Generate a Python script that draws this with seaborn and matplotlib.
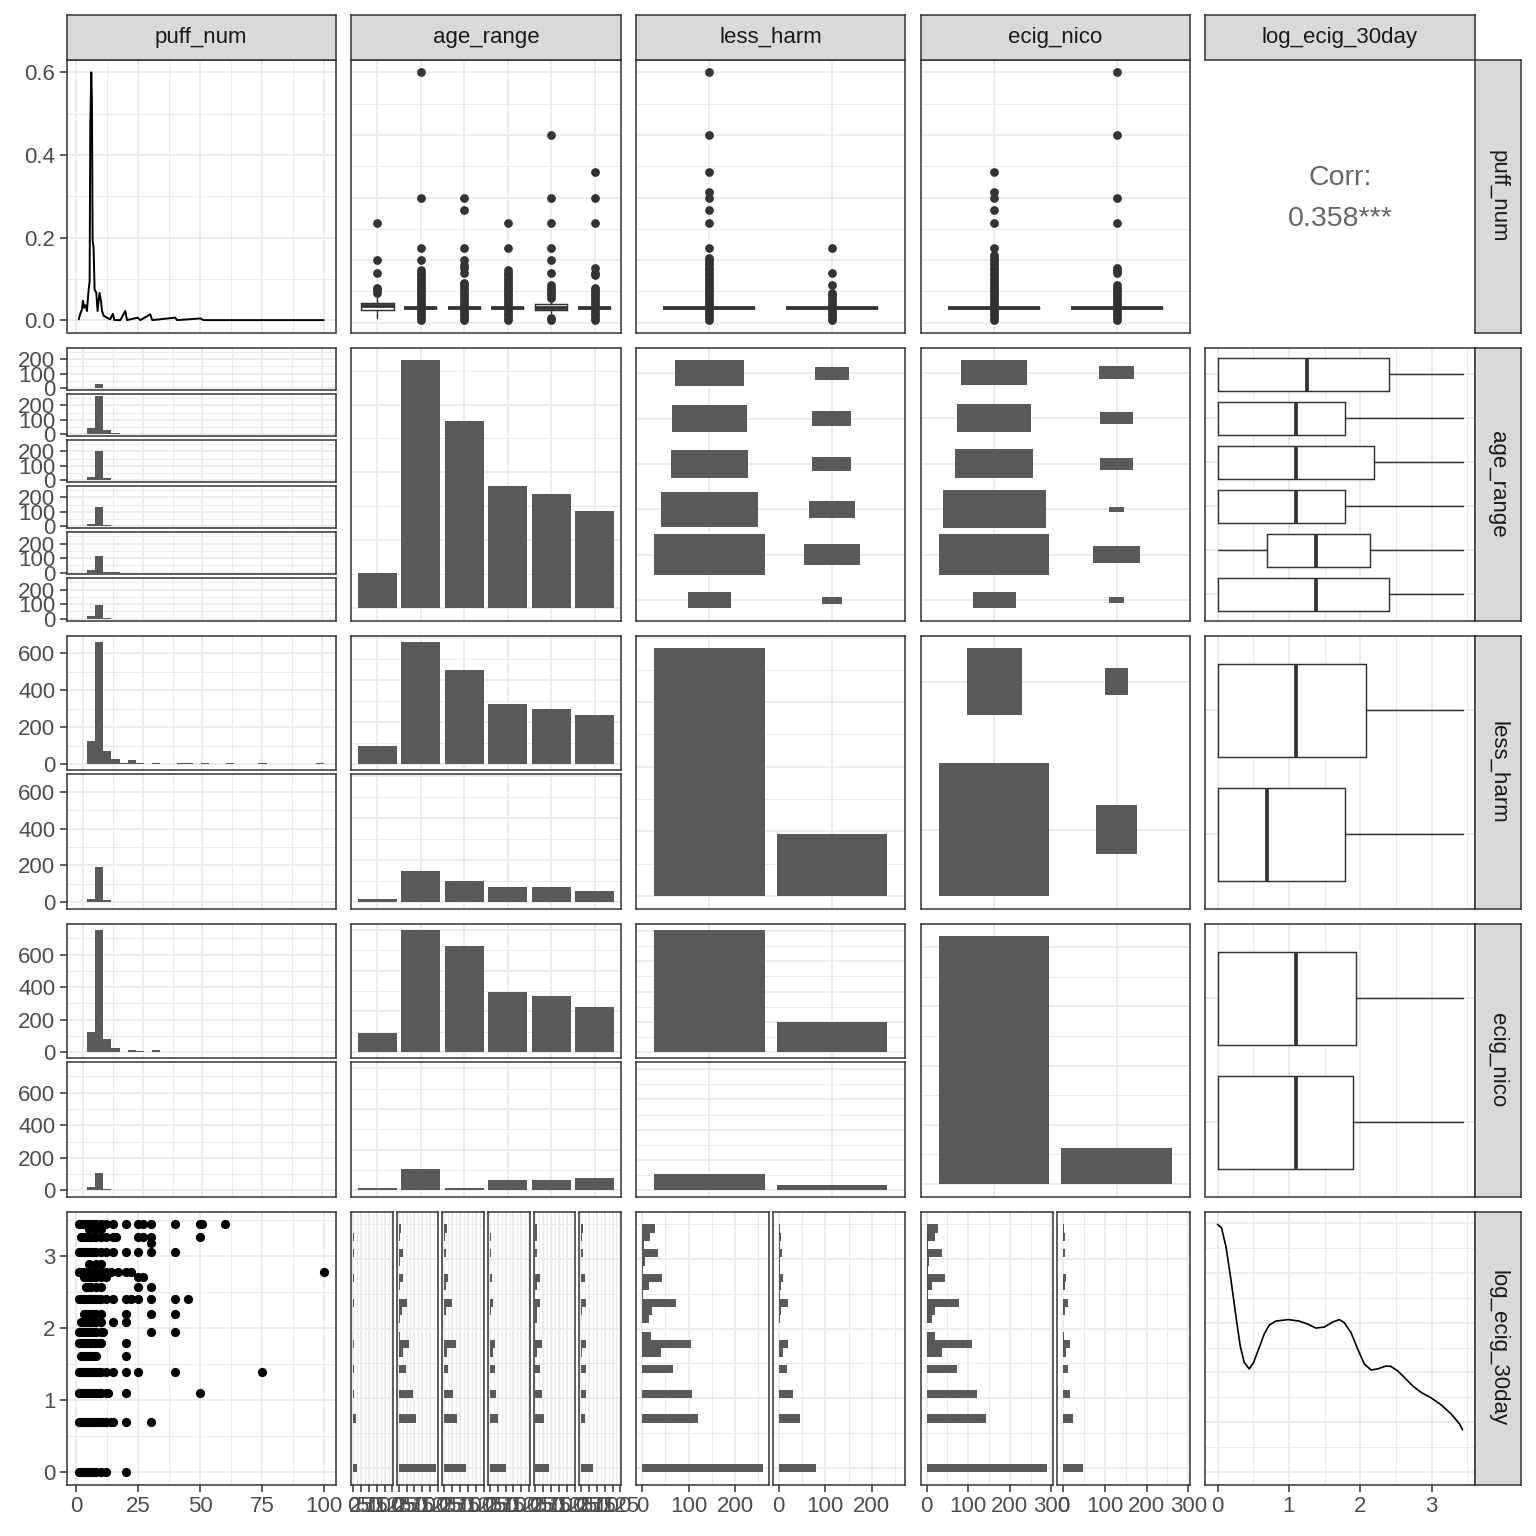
import numpy as np
import pandas as pd
import matplotlib
matplotlib.use("Agg")
import matplotlib.pyplot as plt
from matplotlib.patches import Rectangle
from matplotlib.ticker import FuncFormatter
import seaborn as sns

sns.set_style("white")
plt.rcParams["font.family"] = ["Liberation Sans", "DejaVu Sans"]

# ---------------- data ----------------
variables = ["puff_num", "age_range", "less_harm", "ecig_nico", "log_ecig_30day"]
age_levels = ["1", "2", "3", "4", "5", "6"]
bin_levels = ["0", "1"]
corr_value = 0.358

# diagonal densities
puff_dens_x = [1.0, 1.6, 2.3, 2.7, 3.2, 3.8, 4.3, 5.0, 5.4, 5.66, 6.06, 6.33, 6.6, 7.0, 7.4,
               8.1, 8.6, 9.4, 10.0, 10.4, 11.1, 12.4, 13.7, 14.8, 15.4, 17.8, 19.8, 20.5,
               24.8, 25.9, 29.9, 30.7, 40.0, 40.7, 50.1, 51.5, 100.0]
puff_dens_y = [0.002, 0.015, 0.026, 0.047, 0.030, 0.036, 0.022, 0.074, 0.094, 0.470, 0.600,
               0.534, 0.194, 0.174, 0.074, 0.066, 0.022, 0.066, 0.046, 0.022, 0.010, 0.006,
               0.002, 0.015, 0.0, 0.0, 0.022, 0.0, 0.006, 0.0, 0.014, 0.0, 0.006, 0.0,
               0.004, 0.0, 0.0]
log_dens_x = [0.0, 0.056, 0.117, 0.187, 0.257, 0.318, 0.374, 0.444, 0.505, 0.584, 0.654,
              0.725, 0.818, 0.991, 1.145, 1.262, 1.379, 1.496, 1.613, 1.706, 1.776, 1.870,
              1.964, 2.057, 2.151, 2.244, 2.361, 2.431, 2.525, 2.618, 2.735, 2.852, 2.992,
              3.133, 3.273, 3.390, 3.434]
log_dens_y = [0.497, 0.490, 0.453, 0.387, 0.313, 0.253, 0.220, 0.207, 0.220, 0.250, 0.277,
              0.295, 0.303, 0.306, 0.303, 0.297, 0.289, 0.291, 0.301, 0.306, 0.300, 0.280,
              0.247, 0.217, 0.205, 0.207, 0.213, 0.212, 0.203, 0.190, 0.173, 0.160, 0.149,
              0.135, 0.117, 0.097, 0.085]

age_counts = [52, 365, 276, 180, 168, 143]
less_harm_counts = [958, 240]
ecig_nico_counts = [1045, 154]

# cross tables
age_by_less_harm = [[43, 290, 224, 144, 132, 116],   # less_harm = 0
                    [9, 75, 52, 36, 36, 27]]         # less_harm = 1
age_by_ecig_nico = [[46, 300, 261, 149, 138, 110],   # ecig_nico = 0
                    [5, 53, 5, 26, 26, 31]]          # ecig_nico = 1
less_harm_by_ecig_nico = [[805, 111],                # less_harm = 0 : ecig 0, 1
                          [200, 34]]                 # less_harm = 1

# puff_num histogram counts, 30 bins
puff_hist_age = [
    [0, 2, 32, 2, 2, 0, 0, 0, 0, 0, 0, 0, 0, 0, 0, 0, 0, 0, 0, 0, 0, 0, 0, 0, 0, 0, 0, 0, 0, 0],
    [0, 44, 264, 30, 9, 0, 2, 0, 0, 2, 0, 0, 0, 0, 0, 0, 0, 0, 0, 0, 0, 0, 0, 0, 0, 0, 0, 0, 0, 0],
    [0, 25, 205, 16, 2, 0, 2, 2, 0, 2, 0, 0, 0, 0, 0, 0, 0, 0, 0, 0, 0, 0, 0, 0, 0, 0, 0, 0, 0, 0],
    [0, 16, 134, 9, 2, 0, 0, 0, 0, 0, 0, 0, 0, 0, 0, 0, 0, 0, 0, 0, 0, 0, 0, 0, 0, 0, 0, 0, 0, 0],
    [0, 16, 113, 2, 2, 0, 0, 0, 0, 0, 0, 0, 0, 0, 0, 0, 0, 0, 0, 0, 0, 0, 0, 0, 0, 0, 0, 0, 0, 0],
    [0, 16, 92, 4, 0, 0, 0, 0, 0, 0, 0, 0, 0, 0, 0, 0, 0, 0, 0, 0, 0, 0, 0, 0, 0, 0, 0, 0, 0, 0],
]
puff_hist_less_harm = [
    [3, 123, 661, 73, 30, 4, 24, 8, 0, 8, 0, 0, 8, 4, 0, 8, 0, 0, 4, 0, 0, 0, 4, 0, 0, 0, 0, 0, 0, 4],
    [0, 18, 194, 14, 0, 0, 0, 0, 0, 2, 0, 0, 0, 0, 0, 0, 0, 0, 0, 0, 0, 0, 0, 0, 0, 0, 0, 0, 0, 0],
]
puff_hist_ecig_nico = [
    [0, 122, 750, 79, 23, 0, 16, 4, 0, 11, 0, 0, 0, 0, 0, 0, 0, 0, 0, 0, 0, 0, 0, 0, 0, 0, 0, 0, 0, 0],
    [0, 23, 104, 9, 4, 0, 4, 0, 0, 0, 0, 0, 0, 0, 0, 0, 0, 0, 0, 0, 0, 0, 0, 0, 0, 0, 0, 0, 0, 0],
]

# log_ecig_30day histogram counts, 30 bins
log_hist_age = [
    [13, 0, 0, 0, 0, 0, 8, 0, 0, 2, 0, 0, 2, 0, 0, 2, 0, 0, 0, 0, 2, 0, 0, 3, 0, 0, 2, 0, 2, 0],
    [120, 0, 0, 0, 0, 0, 54, 0, 0, 45, 0, 0, 22, 0, 13, 32, 3, 0, 3, 10, 25, 0, 5, 13, 0, 4, 13, 0, 4, 6],
    [70, 0, 0, 0, 0, 0, 41, 0, 0, 29, 0, 0, 13, 0, 8, 38, 0, 0, 0, 6, 25, 0, 4, 13, 0, 0, 6, 0, 3, 8],
    [52, 0, 0, 0, 0, 0, 26, 0, 0, 20, 0, 0, 17, 0, 9, 17, 0, 0, 1, 3, 10, 0, 2, 7, 0, 0, 3, 0, 3, 2],
    [42, 0, 0, 0, 0, 0, 26, 0, 0, 20, 0, 0, 14, 0, 6, 20, 0, 0, 4, 5, 14, 0, 5, 14, 0, 0, 6, 0, 4, 6],
    [38, 0, 0, 0, 0, 0, 14, 0, 0, 16, 0, 0, 16, 0, 3, 16, 0, 0, 0, 3, 16, 0, 1, 14, 0, 0, 6, 0, 3, 6],
]
log_hist_less_harm = [
    [259, 0, 0, 0, 0, 0, 120, 0, 0, 108, 0, 0, 67, 0, 41, 105, 19, 0, 16, 21, 73, 2, 16, 43, 2, 6, 34, 5, 17, 27],
    [81, 0, 0, 0, 0, 0, 45, 0, 0, 30, 0, 0, 17, 0, 9, 19, 1, 0, 2, 4, 19, 2, 4, 10, 2, 2, 8, 2, 4, 2],
]
log_hist_ecig_nico = [
    [290, 0, 0, 0, 0, 0, 142, 0, 0, 120, 0, 0, 72, 0, 38, 108, 19, 0, 12, 21, 77, 3, 14, 44, 3, 5, 37, 3, 19, 27],
    [46, 0, 0, 0, 0, 0, 22, 0, 0, 15, 0, 0, 10, 0, 6, 15, 2, 0, 0, 3, 12, 0, 3, 7, 0, 0, 5, 0, 4, 2],
]

# puff_num boxplots: (q1, median, q3, lower whisker, upper whisker) and outliers
puff_box_age = [(5, 6.5, 8, 2, 10), (6, 6, 6, 6, 6), (6, 6, 6, 6, 6),
                (6, 6, 6, 6, 6), (5, 6, 7.5, 4, 10), (6, 6, 6, 6, 6)]
puff_out_age = [
    [12, 13, 14, 20, 25, 40],
    [1, 2, 3, 4, 5] + list(range(7, 22)) + [25, 30, 50, 100],
    [1, 2, 3, 4, 5] + list(range(7, 17)) + [20, 22, 23, 25, 30, 45, 50],
    [1, 2, 3, 4, 5] + list(range(7, 22)) + [30, 40],
    [1, 2] + list(range(10, 16)) + [20, 25, 30, 40, 50, 75],
    [1, 2, 3, 4, 5] + list(range(7, 15)) + [19, 20, 22, 40, 50, 60],
]
puff_box_less_harm = [(6, 6, 6, 6, 6), (6, 6, 6, 6, 6)]
puff_out_less_harm = [
    [1, 2, 3, 4, 5] + list(range(7, 27)) + [30, 40, 45, 50, 52, 60, 75, 100],
    [1, 2, 3, 4, 5, 7, 8, 9, 10, 11, 12, 15, 20, 30],
]
puff_box_ecig_nico = [(6, 6, 6, 6, 6), (6, 6, 6, 6, 6)]
puff_out_ecig_nico = [
    [1, 2, 3, 4, 5] + list(range(7, 28)) + [30, 40, 45, 50, 52, 60],
    [1, 2, 3, 4, 5, 7, 8, 9, 10, 11, 12, 13, 14, 15, 20, 21, 22, 40, 50, 75, 100],
]

# log_ecig_30day boxplots: (q1, median, q3, lower whisker, upper whisker)
log_box_age = [(0, 1.386, 2.398, 0, 3.434), (0.693, 1.386, 2.14, 0, 3.434),
               (0, 1.099, 1.792, 0, 3.434), (0, 1.099, 2.197, 0, 3.434),
               (0, 1.099, 1.792, 0, 3.434), (0, 1.26, 2.398, 0, 3.434)]
log_box_less_harm = [(0, 0.693, 1.792, 0, 3.434), (0, 1.099, 2.079, 0, 3.434)]
log_box_ecig_nico = [(0, 1.099, 1.90, 0, 3.434), (0, 1.099, 1.946, 0, 3.434)]

# scatter: days vaped in last 30 (log_ecig_30day = log(days + 1)) against puff_num
scatter_rows = {
    0: [1, 2, 3, 4, 5, 6, 7, 8, 10, 12, 20],
    1: [1, 2, 3, 4, 5, 6, 7, 8, 9, 10, 11, 12, 14, 15, 20, 30],
    2: [1, 2, 3, 4, 5, 6, 7, 8, 9, 10, 12, 13, 20, 50],
    3: [1, 2, 3, 4, 5, 6, 7, 8, 9, 10, 12, 15, 20, 25, 40, 75],
    4: [2, 3, 4, 5, 6, 7, 8, 20],
    5: [1, 2, 3, 4, 5, 6, 7, 8, 9, 10, 20],
    6: [1, 2, 3, 4, 5, 6, 7, 8, 10, 11, 30, 40],
    7: [2, 3, 4, 5, 6, 7, 8, 10, 15, 20],
    8: [3, 4, 5, 6, 7, 8, 10, 20, 30, 40],
    10: [1, 2, 3, 4, 5, 6, 7, 8, 9, 10, 12, 15, 20, 22, 25, 30, 40, 45],
    12: [4, 5, 6, 8, 10, 25, 30],
    14: [3, 4, 5, 6, 7, 8, 10, 12, 25, 27],
    15: [1, 2, 3, 4, 5, 6, 7, 8, 10, 12, 14, 17, 20, 22, 100],
    17: [5, 8, 10],
    20: [1, 2, 3, 4, 5, 6, 7, 8, 10, 12, 15, 20, 25, 30, 40],
    23: [30],
    25: [2, 3, 4, 5, 6, 7, 8, 10, 12, 15, 16, 25, 27, 30, 50],
    28: [5, 8, 10],
    30: [1, 2, 3, 4, 5, 6, 7, 8, 10, 12, 15, 20, 25, 27, 30, 40, 50, 51, 60],
}
scatter_days = [d for d, ps in scatter_rows.items() for _ in ps]
scatter_puff = [p for ps in scatter_rows.values() for p in ps]

# ---------------- look ----------------
C_BAR = "#595959"
C_EDGE = "#333333"
C_GRID = "#EBEBEB"
C_TICK = "#4D4D4D"
FS = 16

FIG = 1536
COL_L = [66.5 + i * 284.7 for i in range(5)]
ROW_T = [60 + i * 288 for i in range(5)]
PW, PH, GAP = 269.5, 272.5, 4

fig = plt.figure(figsize=(FIG / 100, FIG / 100), dpi=100)


def add_box(x0, y0, x1, y1):
    return fig.add_axes([x0 / FIG, 1 - y1 / FIG, (x1 - x0) / FIG, (y1 - y0) / FIG])


def cell(r, c):
    return COL_L[c], ROW_T[r], COL_L[c] + PW, ROW_T[r] + PH


def split(box, n, vertical=True):
    x0, y0, x1, y1 = box
    if vertical:
        h = (y1 - y0 - GAP * (n - 1)) / n
        return [(x0, y0 + i * (h + GAP), x1, y0 + i * (h + GAP) + h) for i in range(n)]
    w = (x1 - x0 - GAP * (n - 1)) / n
    return [(x0 + i * (w + GAP), y0, x0 + i * (w + GAP) + w, y1) for i in range(n)]


def expand(lo, hi, mult=0.05):
    d = (hi - lo) * mult
    return lo - d, hi + d


def hist_bins(lo, hi, bins=30):
    # ggplot-style bins: width = range / (bins - 1), boundary at width / 2
    w = (hi - lo) / (bins - 1)
    origin = w / 2 + np.floor((lo - w / 2) / w) * w
    edges = origin + w * np.arange(bins + 1)
    return w, edges, edges[:-1] + w / 2


def breaks(lim, step):
    half = step / 2
    vals = np.arange(np.ceil(lim[0] / half - 1e-9), np.floor(lim[1] / half + 1e-9) + 1) * half
    vals = np.round(vals, 10) + 0.0
    is_major = np.abs(vals / step - np.round(vals / step)) < 1e-6
    return list(vals[is_major]), list(vals[~is_major])


def style(ax, xlim, ylim, xstep=None, ystep=None, nx=0, ny=0, left=False, bottom=False):
    for axis, lim, step, ncat in ((ax.xaxis, xlim, xstep, nx), (ax.yaxis, ylim, ystep, ny)):
        if ncat:
            axis.set_ticks(list(range(ncat)))
            axis.set_ticks([], minor=True)
        else:
            major, minor = breaks(lim, step)
            axis.set_ticks(major)
            axis.set_ticks(minor, minor=True)
            axis.set_major_formatter(FuncFormatter(
                lambda v, p, s=step: f"{v:.1f}" if s < 1 else f"{v:g}"))
    ax.set_xlim(*xlim)
    ax.set_ylim(*ylim)
    ax.grid(True, which="major", color=C_GRID, linewidth=1.35)
    ax.grid(True, which="minor", color=C_GRID, linewidth=0.7)
    ax.set_axisbelow(True)
    ax.tick_params(which="minor", length=0)
    ax.tick_params(axis="x", which="major", bottom=bottom, labelbottom=bottom, top=False,
                   length=5, width=1.1, color=C_EDGE, labelsize=FS, labelcolor=C_TICK, pad=3)
    ax.tick_params(axis="y", which="major", left=left, labelleft=left, right=False,
                   length=5, width=1.1, color=C_EDGE, labelsize=FS, labelcolor=C_TICK, pad=3)
    ax.set_xlabel("")
    ax.set_ylabel("")
    for s in ax.spines.values():
        s.set_visible(True)
        s.set_color(C_EDGE)
        s.set_linewidth(1.1)
    ax.set_facecolor("white")


def hist(ax, bins, counts, horizontal=False):
    w, edges, centers = bins
    df = pd.DataFrame({"v": centers, "n": np.asarray(counts, float)})
    kw = dict(data=df, weights="n", binwidth=w, binrange=(edges[0], edges[-1]),
              color=C_BAR, alpha=1, linewidth=0, ax=ax)
    if horizontal:
        sns.histplot(y="v", **kw)
    else:
        sns.histplot(x="v", **kw)


def bars(ax, levels, counts):
    sns.barplot(x=levels, y=list(counts), color=C_BAR, saturation=1, width=0.9,
                linewidth=0, errorbar=None, ax=ax)


def boxes(ax, summaries, outliers=None, horizontal=False):
    if outliers is None:
        outliers = [[] for _ in summaries]
    stats = [dict(q1=q1, med=m, q3=q3, whislo=lo, whishi=hi, fliers=list(f))
             for (q1, m, q3, lo, hi), f in zip(summaries, outliers)]
    kw = dict(positions=list(range(len(stats))), widths=0.75, patch_artist=True,
              showcaps=False, manage_ticks=False,
              boxprops=dict(facecolor="white", edgecolor=C_EDGE, linewidth=1.05),
              medianprops=dict(color=C_EDGE, linewidth=2.7, solid_capstyle="butt"),
              whiskerprops=dict(color=C_EDGE, linewidth=1.05),
              flierprops=dict(marker="o", markerfacecolor=C_EDGE, markeredgecolor="none",
                              markersize=6.3))
    try:
        ax.bxp(stats, orientation="horizontal" if horizontal else "vertical", **kw)
    except TypeError:
        ax.bxp(stats, vert=not horizontal, **kw)


def tiles(ax, table):
    # table[x level][y level]; tile side = 0.9 * sqrt(count / max count)
    t = np.asarray(table, float)
    side = 0.9 * np.sqrt(t / t.max())
    lows, highs = [], []
    for i in range(t.shape[0]):
        for j in range(t.shape[1]):
            s = side[i, j]
            ax.add_patch(Rectangle((i - s / 2, j - s / 2), s, s, color=C_BAR, linewidth=0))
            lows.append(j - s / 2)
            highs.append(j + s / 2)
    return (-0.6, t.shape[0] - 0.4), expand(min(lows), max(highs))


def strip(box, text, rotation=0):
    ax = add_box(*box)
    ax.set_facecolor("#D9D9D9")
    ax.set_xticks([])
    ax.set_yticks([])
    for s in ax.spines.values():
        s.set_color(C_EDGE)
        s.set_linewidth(1.1)
    ax.text(0.5, 0.5, text, transform=ax.transAxes, ha="center", va="center",
            rotation=rotation, fontsize=FS, color="#1A1A1A")


# shared scales
scatter_log = np.log1p(scatter_days)
puff_lim = expand(min(scatter_puff), max(scatter_puff))
log_lim = expand(min(scatter_log), max(scatter_log))
puff_bins = hist_bins(min(scatter_puff), max(scatter_puff))
log_bins = hist_bins(min(scatter_log), max(scatter_log))
puff_hist_lim = expand(puff_bins[1][0], puff_bins[1][-1])
log_hist_lim = expand(log_bins[1][0], log_bins[1][-1])
disc6 = (-0.6, 5.6)
disc2 = (-0.6, 1.6)

# ---------------- row 0: puff_num ----------------
ax = add_box(*cell(0, 0))
sns.lineplot(x=puff_dens_x, y=puff_dens_y, color="black", linewidth=1.4,
             estimator=None, sort=False, ax=ax)
style(ax, puff_lim, expand(0, max(puff_dens_y)), xstep=25, ystep=0.2, left=True)

for c, (summ, outs, n) in zip((1, 2, 3), ((puff_box_age, puff_out_age, 6),
                                         (puff_box_less_harm, puff_out_less_harm, 2),
                                         (puff_box_ecig_nico, puff_out_ecig_nico, 2))):
    ax = add_box(*cell(0, c))
    boxes(ax, summ, outs)
    style(ax, (-0.6, n - 0.4), puff_lim, ystep=25, nx=n)

ax = add_box(*cell(0, 4))
ax.axis("off")
ax.text(0.5, 1 - 118 / PH, "Corr:", transform=ax.transAxes, ha="center", va="center",
        fontsize=20.5, color="#666666")
ax.text(0.5, 1 - 159 / PH, f"{corr_value:.3f}***", transform=ax.transAxes, ha="center",
        va="center", fontsize=20.5, color="#666666")

# ---------------- row 1: age_range ----------------
lim = expand(0, max(max(h) for h in puff_hist_age))
for box, counts in zip(split(cell(1, 0), 6), puff_hist_age):
    ax = add_box(*box)
    hist(ax, puff_bins, counts)
    style(ax, puff_hist_lim, lim, xstep=25, ystep=100, left=True)

ax = add_box(*cell(1, 1))
bars(ax, age_levels, age_counts)
style(ax, disc6, expand(0, max(age_counts)), ystep=100, nx=6)

for c, table in ((2, age_by_less_harm), (3, age_by_ecig_nico)):
    ax = add_box(*cell(1, c))
    xl, yl = tiles(ax, table)
    style(ax, xl, yl, nx=2, ny=6)

ax = add_box(*cell(1, 4))
boxes(ax, log_box_age, horizontal=True)
style(ax, log_lim, disc6, xstep=1, ny=6)

# ---------------- row 2: less_harm ----------------
lim = expand(0, max(max(h) for h in puff_hist_less_harm))
for box, counts in zip(split(cell(2, 0), 2), puff_hist_less_harm):
    ax = add_box(*box)
    hist(ax, puff_bins, counts)
    style(ax, puff_hist_lim, lim, xstep=25, ystep=200, left=True)

lim = expand(0, max(max(r) for r in age_by_less_harm))
for box, counts in zip(split(cell(2, 1), 2), age_by_less_harm):
    ax = add_box(*box)
    bars(ax, age_levels, counts)
    style(ax, disc6, lim, ystep=100, nx=6)

ax = add_box(*cell(2, 2))
bars(ax, bin_levels, less_harm_counts)
style(ax, disc2, expand(0, max(less_harm_counts)), ystep=250, nx=2)

ax = add_box(*cell(2, 3))
xl, yl = tiles(ax, np.asarray(less_harm_by_ecig_nico).T)
style(ax, xl, yl, nx=2, ny=2)

ax = add_box(*cell(2, 4))
boxes(ax, log_box_less_harm, horizontal=True)
style(ax, log_lim, disc2, xstep=1, ny=2)

# ---------------- row 3: ecig_nico ----------------
lim = expand(0, max(max(h) for h in puff_hist_ecig_nico))
for box, counts in zip(split(cell(3, 0), 2), puff_hist_ecig_nico):
    ax = add_box(*box)
    hist(ax, puff_bins, counts)
    style(ax, puff_hist_lim, lim, xstep=25, ystep=200, left=True)

lim = expand(0, max(max(r) for r in age_by_ecig_nico))
for box, counts in zip(split(cell(3, 1), 2), age_by_ecig_nico):
    ax = add_box(*box)
    bars(ax, age_levels, counts)
    style(ax, disc6, lim, ystep=100, nx=6)

lh_by_ec = np.asarray(less_harm_by_ecig_nico).T
lim = expand(0, lh_by_ec.max())
for box, counts in zip(split(cell(3, 2), 2), lh_by_ec):
    ax = add_box(*box)
    bars(ax, bin_levels, counts)
    style(ax, disc2, lim, ystep=200, nx=2)

ax = add_box(*cell(3, 3))
bars(ax, bin_levels, ecig_nico_counts)
style(ax, disc2, expand(0, max(ecig_nico_counts)), ystep=250, nx=2)

ax = add_box(*cell(3, 4))
boxes(ax, log_box_ecig_nico, horizontal=True)
style(ax, log_lim, disc2, xstep=1, ny=2)

# ---------------- row 4: log_ecig_30day ----------------
ax = add_box(*cell(4, 0))
sns.scatterplot(x=scatter_puff, y=scatter_log, color="black", s=44, linewidth=0, ax=ax)
style(ax, puff_lim, log_lim, xstep=25, ystep=1, left=True, bottom=True)

for c, groups, step in ((1, log_hist_age, 25), (2, log_hist_less_harm, 100),
                        (3, log_hist_ecig_nico, 100)):
    lim = expand(0, max(max(h) for h in groups))
    for box, counts in zip(split(cell(4, c), len(groups), vertical=False), groups):
        ax = add_box(*box)
        hist(ax, log_bins, counts, horizontal=True)
        style(ax, lim, log_hist_lim, xstep=step, ystep=1, bottom=True)

ax = add_box(*cell(4, 4))
sns.lineplot(x=log_dens_x, y=log_dens_y, color="black", linewidth=1.2,
             estimator=None, sort=False, ax=ax)
style(ax, log_lim, expand(0, max(log_dens_y)), xstep=1, ystep=0.1, bottom=True)

# ---------------- strips ----------------
for c, name in enumerate(variables):
    strip((COL_L[c], 15, COL_L[c] + PW, 60), name)
for r, name in enumerate(variables):
    strip((COL_L[4] + PW, ROW_T[r], 1521, ROW_T[r] + PH), name, rotation=270)

fig.savefig("out.png", dpi=100)
